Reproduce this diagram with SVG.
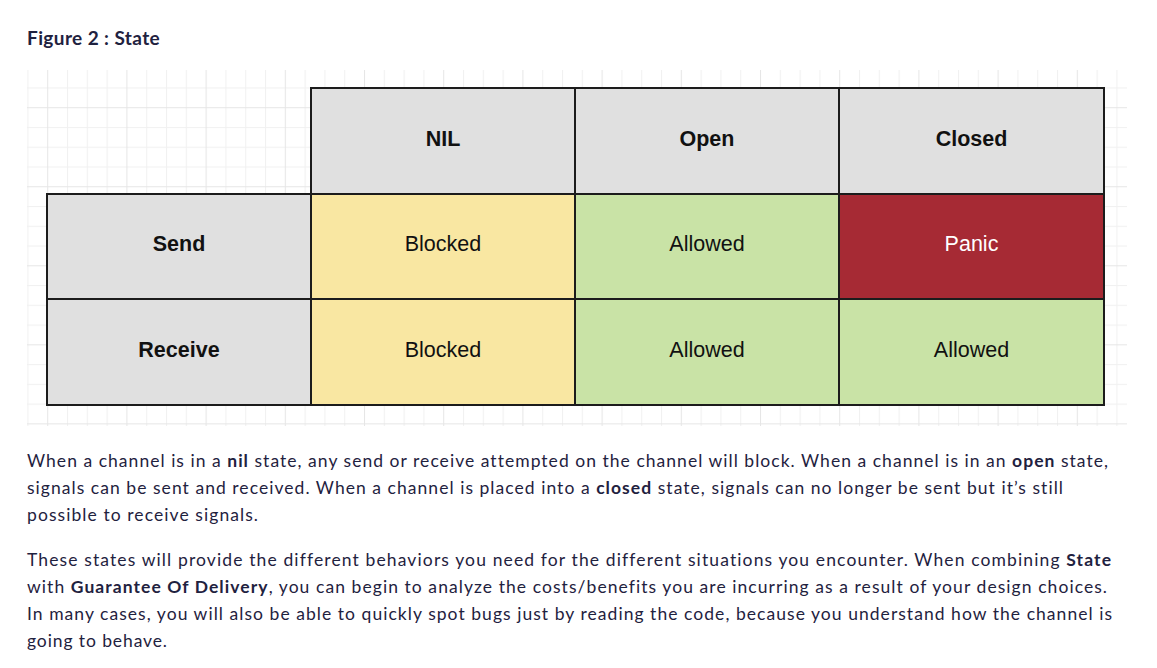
<svg xmlns="http://www.w3.org/2000/svg" width="1157" height="668" viewBox="0 0 1157 668">
  <style>
    .cell { stroke: #1c1c1c; stroke-width: 2; }
    .hdr { fill: #e0e0e0; }
    .yel { fill: #f9e7a2; }
    .grn { fill: #c9e3a6; }
    .red { fill: #a62a34; }
    .lbl { font-family: "Liberation Sans", Arial, sans-serif; font-size: 21.5px; text-anchor: middle; fill: #111; }
    .b { font-weight: bold; }
    .para { font-family: Lato, "Noto Sans", sans-serif; font-size: 17.5px; fill: #1f2240; letter-spacing: 1px; }
    .title { font-family: Lato, "Noto Sans", sans-serif; font-size: 19px; font-weight: bold; fill: #1f2240; letter-spacing: 0.4px; }
    .strong { font-weight: bold; }
  </style>
  <defs>
    <pattern id="grid" patternUnits="userSpaceOnUse" x="47.2" y="107.2" width="79.2" height="79.04">
      <rect x="0" y="0" width="79.2" height="79.04" fill="#ffffff"/>
      <rect x="19.8" y="0" width="1" height="79.04" fill="#f1f1f1"/>
      <rect x="39.6" y="0" width="1" height="79.04" fill="#f1f1f1"/>
      <rect x="59.4" y="0" width="1" height="79.04" fill="#f1f1f1"/>
      <rect x="0" y="19.76" width="79.2" height="1" fill="#f1f1f1"/>
      <rect x="0" y="39.52" width="79.2" height="1" fill="#f1f1f1"/>
      <rect x="0" y="59.28" width="79.2" height="1" fill="#f1f1f1"/>
      <rect x="0" y="0" width="1" height="79.04" fill="#e6e6e6"/>
      <rect x="0" y="0" width="79.2" height="1" fill="#e6e6e6"/>
    </pattern>
  </defs>
  <rect width="1157" height="668" fill="#ffffff"/>
  <text class="title" x="27" y="45">Figure 2 : State</text>
  <rect id="grid-bg" x="27" y="70" width="1100" height="356" fill="url(#grid)"/>

  <g id="hdr-nil">
    <rect class="cell hdr" x="311" y="88" width="264" height="106"/>
    <text class="lbl b" x="443" y="146">NIL</text>
  </g>
  <g id="hdr-open">
    <rect class="cell hdr" x="575" y="88" width="264" height="106"/>
    <text class="lbl b" x="707" y="146">Open</text>
  </g>
  <g id="hdr-closed">
    <rect class="cell hdr" x="839" y="88" width="265" height="106"/>
    <text class="lbl b" x="971.5" y="146">Closed</text>
  </g>

  <g id="row-send">
    <rect class="cell hdr" x="47" y="194" width="264" height="105"/>
    <text class="lbl b" x="179" y="251">Send</text>
  </g>
  <g id="send-nil">
    <rect class="cell yel" x="311" y="194" width="264" height="105"/>
    <text class="lbl" x="443" y="251">Blocked</text>
  </g>
  <g id="send-open">
    <rect class="cell grn" x="575" y="194" width="264" height="105"/>
    <text class="lbl" x="707" y="251">Allowed</text>
  </g>
  <g id="send-closed">
    <rect class="cell red" x="839" y="194" width="265" height="105"/>
    <text class="lbl" x="971.5" y="251" style="fill:#ffffff">Panic</text>
  </g>

  <g id="row-receive">
    <rect class="cell hdr" x="47" y="299" width="264" height="106"/>
    <text class="lbl b" x="179" y="357">Receive</text>
  </g>
  <g id="recv-nil">
    <rect class="cell yel" x="311" y="299" width="264" height="106"/>
    <text class="lbl" x="443" y="357">Blocked</text>
  </g>
  <g id="recv-open">
    <rect class="cell grn" x="575" y="299" width="264" height="106"/>
    <text class="lbl" x="707" y="357">Allowed</text>
  </g>
  <g id="recv-closed">
    <rect class="cell grn" x="839" y="299" width="265" height="106"/>
    <text class="lbl" x="971.5" y="357">Allowed</text>
  </g>

  <g id="paragraph-1" class="para">
    <text x="27" y="467" textLength="1082" lengthAdjust="spacing">When a channel is in a <tspan class="strong">nil</tspan> state, any send or receive attempted on the channel will block. When a channel is in an <tspan class="strong">open</tspan> state,</text>
    <text x="27" y="494" textLength="1037" lengthAdjust="spacing">signals can be sent and received. When a channel is placed into a <tspan class="strong">closed</tspan> state, signals can no longer be sent but it’s still</text>
    <text x="27" y="521" textLength="232" lengthAdjust="spacing">possible to receive signals.</text>
  </g>
  <g id="paragraph-2" class="para">
    <text x="27" y="566" textLength="1085" lengthAdjust="spacing">These states will provide the different behaviors you need for the different situations you encounter. When combining <tspan class="strong">State</tspan></text>
    <text x="27" y="593" textLength="1081" lengthAdjust="spacing">with <tspan class="strong">Guarantee Of Delivery</tspan>, you can begin to analyze the costs/benefits you are incurring as a result of your design choices.</text>
    <text x="27" y="620" textLength="1086" lengthAdjust="spacing">In many cases, you will also be able to quickly spot bugs just by reading the code, because you understand how the channel is</text>
    <text x="27" y="647" textLength="141" lengthAdjust="spacing">going to behave.</text>
  </g>
</svg>
